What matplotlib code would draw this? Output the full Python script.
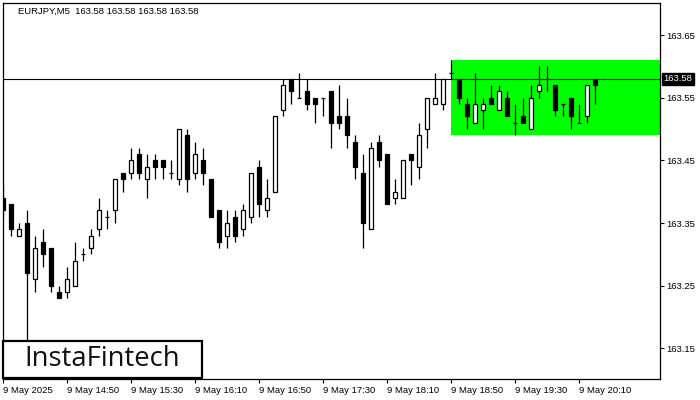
import matplotlib
matplotlib.use("Agg")
import matplotlib.pyplot as plt
from matplotlib.patches import Rectangle
import matplotlib.transforms as mtransforms

# EURJPY M5, 5-minute candles from 9 May 14:10
opens = [163.39, 163.38, 163.33, 163.35, 163.26, 163.32, 163.31, 163.24, 163.24, 163.25,
         163.30, 163.31, 163.34, 163.36, 163.37, 163.43, 163.43, 163.46, 163.42, 163.45,
         163.45, 163.43, 163.42, 163.49, 163.43, 163.45, 163.42, 163.37, 163.33, 163.36,
         163.34, 163.36, 163.44, 163.37, 163.40, 163.53, 163.58, 163.55, 163.56, 163.55,
         163.55, 163.56, 163.52, 163.52, 163.48, 163.43, 163.34, 163.48, 163.46, 163.39,
         163.39, 163.46, 163.44, 163.50, 163.54, 163.54, 163.59, 163.58, 163.54, 163.51,
         163.53, 163.55, 163.53, 163.55, 163.51, 163.52, 163.50, 163.56, 163.58, 163.57,
         163.54, 163.55, 163.51, 163.52, 163.58]
highs = [163.41, 163.38, 163.35, 163.37, 163.33, 163.34, 163.31, 163.25, 163.28, 163.32,
         163.31, 163.34, 163.39, 163.37, 163.42, 163.43, 163.47, 163.47, 163.46, 163.46,
         163.45, 163.45, 163.50, 163.50, 163.48, 163.47, 163.42, 163.37, 163.37, 163.37,
         163.38, 163.43, 163.45, 163.42, 163.52, 163.58, 163.58, 163.59, 163.58, 163.55,
         163.55, 163.56, 163.57, 163.55, 163.49, 163.46, 163.48, 163.49, 163.46, 163.42,
         163.45, 163.46, 163.51, 163.55, 163.59, 163.58, 163.61, 163.58, 163.55, 163.59,
         163.55, 163.57, 163.57, 163.56, 163.54, 163.55, 163.57, 163.60, 163.60, 163.57,
         163.54, 163.55, 163.54, 163.57, 163.58]
lows = [163.36, 163.33, 163.33, 163.16, 163.24, 163.28, 163.24, 163.23, 163.23, 163.25,
        163.29, 163.30, 163.33, 163.34, 163.35, 163.40, 163.42, 163.42, 163.39, 163.42,
        163.42, 163.42, 163.41, 163.40, 163.42, 163.41, 163.36, 163.31, 163.31, 163.32,
        163.33, 163.35, 163.36, 163.36, 163.40, 163.52, 163.54, 163.55, 163.53, 163.51,
        163.52, 163.47, 163.50, 163.47, 163.42, 163.31, 163.34, 163.44, 163.38, 163.38,
        163.39, 163.41, 163.42, 163.47, 163.54, 163.53, 163.58, 163.54, 163.50, 163.51,
        163.50, 163.54, 163.53, 163.52, 163.49, 163.51, 163.50, 163.55, 163.56, 163.52,
        163.52, 163.50, 163.51, 163.51, 163.54]
closes = [163.37, 163.34, 163.34, 163.27, 163.31, 163.30, 163.25, 163.23, 163.26, 163.29,
          163.30, 163.33, 163.37, 163.36, 163.42, 163.42, 163.45, 163.43, 163.44, 163.44,
          163.44, 163.43, 163.50, 163.42, 163.46, 163.43, 163.36, 163.32, 163.35, 163.33,
          163.37, 163.43, 163.38, 163.39, 163.52, 163.57, 163.56, 163.55, 163.54, 163.54,
          163.55, 163.51, 163.51, 163.49, 163.44, 163.35, 163.47, 163.45, 163.38, 163.40,
          163.45, 163.45, 163.49, 163.55, 163.55, 163.58, 163.59, 163.55, 163.52, 163.54,
          163.54, 163.54, 163.56, 163.52, 163.51, 163.51, 163.55, 163.57, 163.58, 163.53,
          163.54, 163.52, 163.51, 163.57, 163.57]

tick_pos = [0, 8, 16, 24, 32, 40, 48, 56, 64, 72]
tick_labels = ["9 May 2025", "9 May 14:50", "9 May 15:30", "9 May 16:10", "9 May 16:50",
               "9 May 17:30", "9 May 18:10", "9 May 18:50", "9 May 19:30", "9 May 20:10"]
price_ticks = [163.15, 163.25, 163.35, 163.45, 163.55, 163.65]

last_price = 163.58
zone_start = 56
zone_top = 163.61
zone_bottom = 163.49

plt.rcParams['font.family'] = ['Liberation Sans', 'DejaVu Sans']

fig = plt.figure(figsize=(7, 4), dpi=100)
ax = fig.add_axes([2.5 / 700, 1 - 379 / 400, 657 / 700, 376.5 / 400])

ax.set_xlim(-0.06, 82.06)
ax.set_ylim(163.1011, 163.7019)

# green pattern zone
ax.add_patch(Rectangle((zone_start, zone_bottom), 40, zone_top - zone_bottom,
                       facecolor='#00ff00', edgecolor='none', zorder=1))

ax.axhline(last_price, color='black', lw=0.8, zorder=2)

w = 0.6
for i in range(len(opens)):
    o, h, l, c = opens[i], highs[i], lows[i], closes[i]
    ax.vlines(i, l, h, color='black', lw=0.9, zorder=3)
    if abs(c - o) < 1e-9:
        ax.hlines(o, i - w / 2, i + w / 2, color='black', lw=0.9, zorder=4)
    else:
        fc = 'white' if c > o else 'black'
        ax.add_patch(Rectangle((i - w / 2, min(o, c)), w, abs(c - o),
                               facecolor=fc, edgecolor='black', lw=0.9, zorder=4))

ax.yaxis.tick_right()
ax.set_yticks(price_ticks)
ax.set_yticklabels([f"{p:.2f}" for p in price_ticks])
ax.set_xticks(tick_pos)
ax.set_xticklabels(tick_labels, ha='left')
ax.tick_params(axis='both', direction='out', length=3, width=0.8, labelsize=6.8, pad=2)
for sp in ax.spines.values():
    sp.set_linewidth(0.9)

# last price marker on the right scale
trans = mtransforms.blended_transform_factory(ax.transAxes, ax.transData)
ax.text(1.006, last_price, "163.58", transform=trans, color='white', fontsize=6.8,
        va='center', ha='left',
        bbox=dict(facecolor='black', edgecolor='black', pad=1.2))

fig.text(18 / 700, 1 - 11 / 400, "EURJPY,M5  163.58 163.58 163.58 163.58",
         fontsize=6.8, va='center', ha='left')

# logo box
fig.patches.append(Rectangle((3 / 700, 1 - 378 / 400), 199 / 700, 37.5 / 400,
                             transform=fig.transFigure, facecolor='white',
                             edgecolor='black', lw=1.6, zorder=10))
fig.text(102 / 700, 1 - 359 / 400, "InstaFintech", fontsize=19.8, family='Open Sans',
         weight='medium', ha='center', va='center', color='#111111', zorder=11)

fig.savefig("out.png", dpi=100)
